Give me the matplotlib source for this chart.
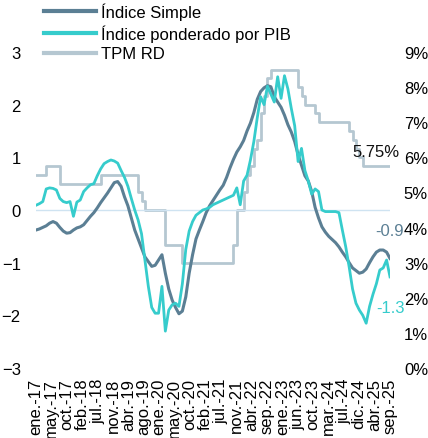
import numpy as np
import matplotlib
matplotlib.use("Agg")
import matplotlib.pyplot as plt

plt.rcParams['font.family'] = ['Liberation Sans', 'DejaVu Sans']

# Datos mensuales (ene.-17 a sep.-25), x = meses desde ene.-17
meses = np.arange(105)

indice_simple = [
    -0.38, -0.36, -0.33, -0.30, -0.25, -0.22, -0.25, -0.33, -0.40, -0.44,
    -0.43, -0.38, -0.34, -0.32, -0.28, -0.20, -0.12, -0.05, 0.04, 0.14,
    0.23, 0.32, 0.42, 0.52, 0.54, 0.45, 0.25, 0.08, -0.15, -0.38,
    -0.55, -0.72, -0.89, -0.98, -1.07, -1.05, -0.95, -0.85, -1.20, -1.50,
    -1.71, -1.85, -1.97, -1.92, -1.65, -1.20, -0.85, -0.55, -0.38, -0.22,
    -0.05, 0.08, 0.18, 0.28, 0.38, 0.47, 0.62, 0.80, 0.96, 1.10,
    1.20, 1.32, 1.50, 1.65, 1.85, 2.10, 2.25, 2.32, 2.36, 2.34,
    2.15, 2.05, 1.95, 1.80, 1.62, 1.48, 1.30, 1.05, 0.85, 0.65,
    0.55, 0.35, 0.05, -0.15, -0.32, -0.42, -0.50, -0.56, -0.62, -0.70,
    -0.80, -0.89, -1.00, -1.10, -1.15, -1.20, -1.18, -1.12, -1.00, -0.89,
    -0.80, -0.76, -0.76, -0.80, -0.92,
]

indice_ponderado = [
    0.09, 0.12, 0.16, 0.40, 0.42, 0.41, 0.38, 0.22, 0.16, 0.14,
    0.16, -0.12, 0.15, 0.19, 0.35, 0.42, 0.48, 0.50, 0.65, 0.78,
    0.88, 0.92, 0.95, 0.93, 0.89, 0.75, 0.62, 0.45, 0.22, 0.00,
    -0.19, -0.45, -0.95, -1.45, -1.85, -1.96, -1.96, -1.45, -2.30, -1.90,
    -1.80, -1.77, -1.83, -1.40, -0.75, -0.40, -0.22, -0.10, -0.05, 0.00,
    0.02, 0.05, 0.10, 0.13, 0.16, 0.19, 0.22, 0.25, 0.28, 0.42,
    0.10, 0.55, 0.66, 0.95, 1.30, 1.75, 2.15, 2.00, 2.35, 2.20,
    2.05, 2.53, 2.12, 2.55, 2.30, 1.93, 1.60, 0.92, 1.17, 0.75,
    0.55, 0.30, 0.40, 0.35, 0.00, -0.03, -0.03, -0.03, -0.03, -0.05,
    -0.38, -0.70, -1.08, -1.50, -1.77, -1.90, -2.00, -2.15, -1.83, -1.60,
    -1.40, -1.14, -1.10, -0.95, -1.27,
]

tpm_rd = (
    [5.5] * 3 + [5.75] * 4 + [5.25] * 12 + [5.5] * 11 + [5.0, 4.75]
    + [4.5] * 6 + [3.5] * 5 + [3.0] * 15
    + [3.5, 4.5, 4.5, 5.0, 5.5, 5.75, 6.25, 6.5, 7.25, 7.75, 8.25]
    + [8.5] * 8 + [8.0, 7.75] + [7.5] * 3 + [7.25] + [7.0] * 9
    + [6.75, 6.5, 6.25, 6.0] + [5.75] * 9
)

etiquetas_x = [
    "ene.-17", "may.-17", "oct.-17", "feb.-18", "jul.-18", "nov.-18",
    "abr.-19", "ago.-19", "ene.-20", "may.-20", "oct.-20", "feb.-21",
    "jul.-21", "nov.-21", "abr.-22", "sep.-22", "ene.-23", "jun.-23",
    "oct.-23", "mar.-24", "jul.-24", "dic.-24", "abr.-25", "sep.-25",
]

c_simple = "#5b7f94"
c_pond = "#36cccc"
c_tpm = "#b5c7d1"
fs = 12

fig = plt.figure(figsize=(4.28, 4.39), dpi=100)
ax = fig.add_axes([36 / 428, 1 - 369 / 439, 354 / 428, 316 / 439])
ax2 = ax.twinx()
ax2.xaxis.set_visible(False)
ax.set_zorder(ax2.get_zorder() + 1)
ax.patch.set_visible(False)

l3, = ax2.plot(meses, tpm_rd, color=c_tpm, lw=2.0, drawstyle="steps-post", label="TPM RD")
ax.axhline(0, color="#cfe3f1", lw=1.0, zorder=1)
l1, = ax.plot(meses, indice_simple, color=c_simple, lw=2.2, label="Índice Simple")
l2, = ax.plot(meses, indice_ponderado, color=c_pond, lw=2.0, label="Índice ponderado por PIB")

ax.set_xlim(meses[0], meses[-1])
ax.set_ylim(-3, 3)
ax2.set_ylim(0, 9)
ax.set_yticks(range(-3, 4))
ax2.set_yticks(range(0, 10))
ax2.set_yticklabels([f"{v}%" for v in range(0, 10)])

ticks = np.linspace(meses[0], meses[-1], len(etiquetas_x))
ax.set_xticks(ticks)
ax.set_xticklabels(etiquetas_x, rotation=90)

for a in (ax, ax2):
    for s in a.spines.values():
        s.set_visible(False)
    a.tick_params(length=0, labelsize=fs)
ax.tick_params(axis="y", pad=11)
ax.tick_params(axis="x", pad=7)
ax2.tick_params(axis="y", pad=10)

# Etiquetas de los últimos valores
ax2.annotate("5.75%", (meses[-1], tpm_rd[-1]), xytext=(7, 5), textcoords="offset points",
             ha="right", va="bottom", fontsize=fs, color="#111111")
ax.annotate(f"{indice_simple[-1]:.1f}", (meses[-1], indice_simple[-1]), xytext=(0, 15),
            textcoords="offset points", ha="center", va="bottom", fontsize=fs, color=c_simple)
ax.annotate(f"{indice_ponderado[-1]:.1f}", (meses[-1], indice_ponderado[-1]), xytext=(0, -22),
            textcoords="offset points", ha="center", va="center", fontsize=fs, color=c_pond)

leg = ax.legend(handles=[l1, l2, l3], loc="upper left", bbox_to_anchor=(36 / 428, 1.012),
                bbox_transform=fig.transFigure, frameon=False, fontsize=fs,
                handlelength=3.1, handletextpad=0.3, labelspacing=0.28, borderaxespad=0.1)
for h in leg.get_lines():
    h.set_linewidth(3)

fig.savefig("out.png", dpi=100)
